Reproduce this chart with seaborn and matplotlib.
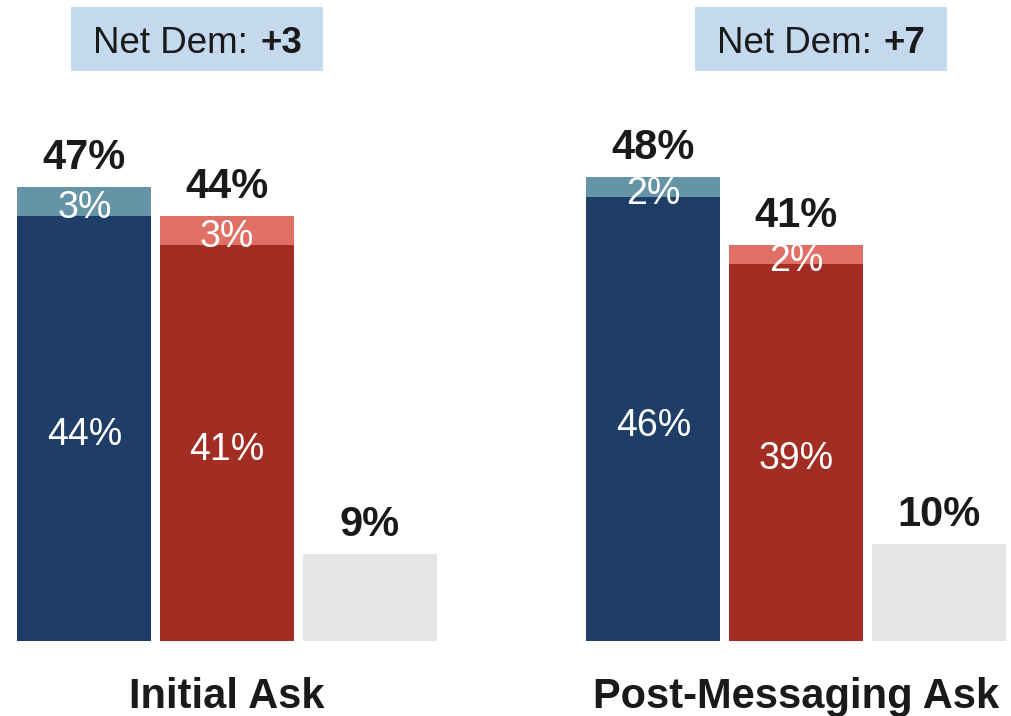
import pandas as pd
import matplotlib.pyplot as plt
import seaborn as sns
from matplotlib.patches import Rectangle

# values
asks = ["Initial Ask", "Post-Messaging Ask"]
parties = ["Dem", "Rep", "Undecided"]
dem_total = [47, 48]
dem_base = [44, 46]
rep_total = [44, 41]
rep_base = [41, 39]
undecided = [9, 10]

light_colors = ["#6594A6", "#E07066", "#E5E5E5"]
dark_colors = ["#1E3E68", "#A32D23", "#E5E5E5"]
text_col = "#1A1A1A"

rows = []
for i, ask in enumerate(asks):
    rows.append(dict(ask=ask, party="Dem", total=dem_total[i], base=dem_base[i]))
    rows.append(dict(ask=ask, party="Rep", total=rep_total[i], base=rep_base[i]))
    rows.append(dict(ask=ask, party="Undecided", total=undecided[i], base=undecided[i]))
df = pd.DataFrame(rows)

sns.set_style("white")
plt.rcParams["font.family"] = ["Liberation Sans", "DejaVu Sans"]

W, H = 1012, 716
fig = plt.figure(figsize=(W / 100, H / 100), dpi=100)
ax = fig.add_axes([0, 75 / H, 1, 641 / H])
ax.set_facecolor("none")

# light bars = total incl. leaners, dark bars drawn over them = base
sns.barplot(data=df, x="ask", y="total", hue="party", hue_order=parties,
            palette=light_colors, width=0.752, gap=0.061, saturation=1,
            errorbar=None, legend=False, linewidth=0, ax=ax)
sns.barplot(data=df, x="ask", y="base", hue="party", hue_order=parties,
            palette=dark_colors, width=0.752, gap=0.061, saturation=1,
            errorbar=None, legend=False, linewidth=0, ax=ax)

ax.set_xlim(-227 / 569, 1 + 216 / 569)
ax.set_ylim(0, 641 / 9.66)
sns.despine(ax=ax, left=True, bottom=True)
ax.set_yticks([])
ax.set_xlabel("")
ax.set_ylabel("")
ax.tick_params(axis="x", length=0, pad=26, labelsize=30, labelcolor=text_col)
for lbl in ax.get_xticklabels():
    lbl.set_fontweight("bold")

light = ax.containers[:3]
dark = ax.containers[3:]
for k, party in enumerate(parties):
    sub = df[df.party == party]
    for bar, tot, base in zip(light[k], sub.total, sub.base):
        x = bar.get_x() + bar.get_width() / 2
        ax.annotate(f"{tot}%", (x, tot), xytext=(0, 13), textcoords="offset points",
                    ha="center", va="baseline", fontsize=30, fontweight="bold",
                    color=text_col)
        if party != "Undecided":
            ax.annotate(f"{tot - base}%", (x, (tot + base) / 2), xytext=(0, -2),
                        textcoords="offset points", ha="center", va="center_baseline",
                        fontsize=27, color="white")
            ax.annotate(f"{base}%", (x, base / 2), xytext=(0, -2),
                        textcoords="offset points", ha="center", va="center_baseline",
                        fontsize=27, color="white")

# "Net Dem" boxes
box_left = [71, 695]
for x0, d, r in zip(box_left, dem_total, rep_total):
    fig.add_artist(Rectangle((x0 / W, 1 - 71 / H), 252 / W, 64 / H,
                             transform=fig.transFigure, facecolor="#C4D8EE",
                             edgecolor="none", zorder=1))
    fig.text((x0 + 177) / W, 1 - 53 / H, "Net Dem:", ha="right", va="baseline",
             fontsize=26.5, color=text_col, zorder=3)
    fig.text((x0 + 189) / W, 1 - 53 / H, f"+{d - r}", ha="left", va="baseline",
             fontsize=26.5, fontweight="bold", color=text_col, zorder=3)

fig.savefig("out.png", dpi=100)
